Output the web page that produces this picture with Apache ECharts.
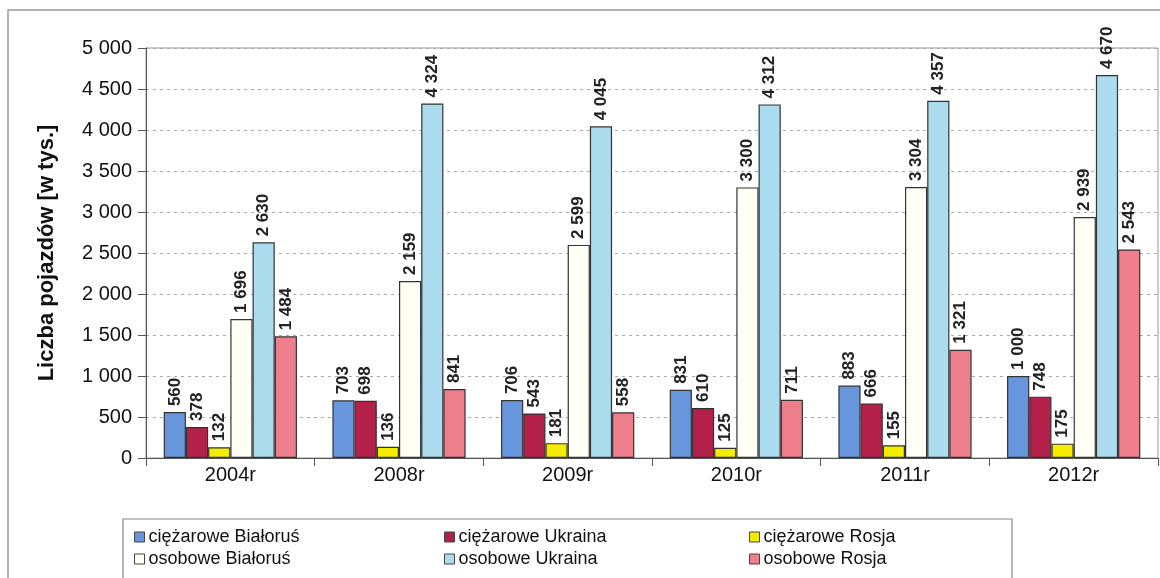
<!DOCTYPE html>
<html><head><meta charset="utf-8">
<script src="https://cdn.jsdelivr.net/npm/echarts@6/dist/echarts.min.js"></script>
<style>html,body{margin:0;padding:0;background:#fff}#c{width:1160px;height:578px}</style>
</head><body><div id="c"></div>
<script>
const categories = ['2004r','2008r','2009r','2010r','2011r','2012r'];
const seriesNames = ['ciężarowe Białoruś','ciężarowe Ukraina','ciężarowe Rosja','osobowe Białoruś','osobowe Ukraina','osobowe Rosja'];
const cBY = [560,703,706,831,883,1000];
const cUA = [378,698,543,610,666,748];
const cRU = [132,136,181,125,155,175];
const oBY = [1696,2159,2599,3300,3304,2939];
const oUA = [2630,4324,4045,4312,4357,4670];
const oRU = [1484,841,558,711,1321,2543];
const colors = ['#6896dc','#b3204a','#f5ec00','#fffff6','#aadcee','#ee7e8c'];
const allData = [cBY,cUA,cRU,oBY,oUA,oRU];
const fmt = v => String(v).replace(/\B(?=(\d{3})+(?!\d))/g,' ');
const FONT = 'Arial, "Liberation Sans", sans-serif';
const legendPos = [[134,528],[444,528],[749,528],[134,550],[444,550],[749,550]];
const chart = echarts.init(document.getElementById('c'));
chart.setOption({
  animation:false,
  backgroundColor:'#fff',
  color:colors,
  graphic:[
    {type:'rect',shape:{x:8,y:10,width:1170,height:600},style:{fill:'none',stroke:'#9a9a9a',lineWidth:1.5},z:-1},
    {type:'rect',shape:{x:123,y:519,width:889,height:80},style:{fill:'#fff',stroke:'#888',lineWidth:1.2},z:-1}
  ],
  legend: seriesNames.map((n,i)=>({
    left:legendPos[i][0], top:legendPos[i][1], padding:0,
    icon:'rect',
    itemWidth:10,itemHeight:10,itemGap:4,
    textStyle:{fontFamily:FONT,fontSize:18,color:'#111',padding:[0,0,0,-1]},
    itemStyle:{borderColor:'#444',borderWidth:1},
    data:[n]
  })),
  grid:{left:146,right:2,top:48,bottom:120,show:true,borderColor:'#999',borderWidth:1},
  xAxis:{type:'category',data:categories,
    axisLine:{lineStyle:{color:'#555',width:1}},
    axisTick:{show:true,length:8,lineStyle:{color:'#555'}},
    axisLabel:{fontFamily:FONT,fontSize:20,color:'#111',margin:7}},
  yAxis:{type:'value',min:0,max:5000,interval:500,
    name:'Liczba pojazdów [w tys.]',nameLocation:'middle',nameGap:88,
    nameTextStyle:{fontFamily:FONT,fontSize:22,fontWeight:'bold',color:'#111'},
    axisLine:{show:true,lineStyle:{color:'#555'}},
    axisTick:{show:true,length:8,lineStyle:{color:'#555'}},
    axisLabel:{fontFamily:FONT,fontSize:20,color:'#111',margin:14,formatter:v=>fmt(v)},
    splitLine:{show:true,lineStyle:{color:'#aaa',type:[3,4],width:1}}},
  series: allData.map((d,i)=>({
    name:seriesNames[i],type:'bar',data:d,
    barGap:'0%',barCategoryGap:'21%',
    itemStyle:{color:colors[i],borderColor:'#333',borderWidth:1.2},
    label:{show:true,position:'top',rotate:90,align:'left',verticalAlign:'middle',distance:6,
      fontFamily:FONT,fontSize:17,fontWeight:'bold',color:'#222',
      formatter:p=>fmt(p.value)}
  }))
});
</script></body></html>
